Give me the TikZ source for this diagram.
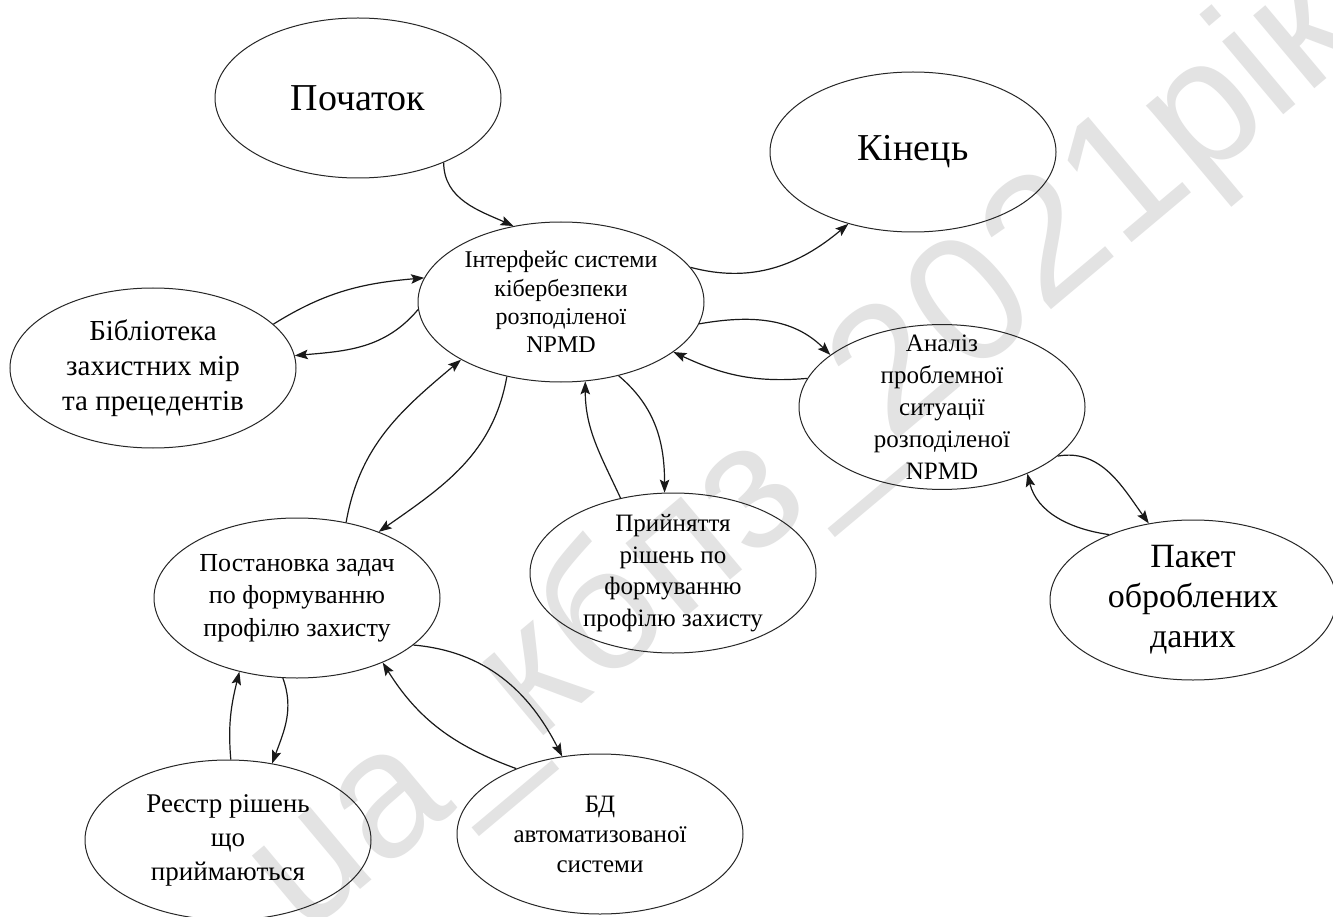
\documentclass[tikz,border=0pt]{standalone}
\usepackage{fontspec}
\setmainfont{Liberation Serif}
\newfontfamily\wmfont{Liberation Sans}
\usetikzlibrary{shapes.geometric,arrows.meta}
\newcommand{\fs}[2]{\fontsize{#1}{#2}\selectfont}
\begin{document}
\begin{tikzpicture}[x=1pt,y=1pt,
  blob/.style={ellipse,draw=black!85,line width=1pt,minimum width=286pt,
    minimum height=160pt,inner sep=-14pt,align=center,text=black},
  arr/.style={-{Stealth[length=13pt,width=9.5pt,inset=2.5pt]},line width=1.2pt,draw=black!90},
  wmark/.style={text=black!11,font=\wmfont\fs{180}{180},rotate=40}]
\useasboundingbox (0,0) rectangle (1333,-917);
\fill[white] (0,0) rectangle (1333,-917);

% faint diagonal stamp in the background
\begin{scope}
  \clip (0,0) rectangle (1333,-917);
  \node[wmark] (stamp) at (805,-455) {ua\_кбпз\_2021рік};
\end{scope}

% states
\node[blob,font=\fs{38}{44}] (start) at (358,-98) {Початок};
\node[blob,font=\fs{38}{44}] (fin) at (913,-152) {Кінець};
\node[blob,font=\fs{24}{28.3}] (iface) at (561,-302)
  {Інтерфейс системи\\кібербезпеки\\розподіленої\\NPMD};
\node[blob,font=\fs{29}{35}] (lib) at (153,-368)
  {Бібліотека\\захистних мір\\та прецедентів};
\node[blob,font=\fs{25}{32}] (anal) at (942,-407)
  {Аналіз\\проблемної\\ситуації\\розподіленої\\NPMD};
\node[blob,font=\fs{25}{31.5}] (decis) at (673,-573)
  {Прийняття\\рішень по\\формуванню\\профілю захисту};
\node[blob,font=\fs{26}{32.5}] (task) at (297,-598)
  {Постановка задач\\по формуванню\\профілю захисту};
\node[blob,font=\fs{34}{40}] (pack) at (1193,-600)
  {Пакет\\оброблених\\даних};
\node[blob,font=\fs{27}{34}] (reg) at (228,-840)
  {Реєстр рішень\\що\\приймаються};
\node[blob,font=\fs{25}{30}] (db) at (600,-834)
  {БД\\автоматизованої\\системи};

% transitions
\draw[arr] (start.-37) to[out=-90,in=156] (iface.122);
\draw[arr] (iface.15) to[out=-15,in=220] (fin.-132);
\draw[arr] (lib.20) to[out=32,in=185] (iface.170);
\draw[arr] (iface.183) to[out=230,in=5] (lib.5);
\draw[arr] (iface.-9) to[out=10,in=135] (anal.155);
\draw[arr] (anal.168) to[out=185,in=-25] (iface.-24);
\draw[arr] (iface.-52) to[out=-40,in=90] (decis.96);
\draw[arr] (decis.125) to[out=115,in=-90] (iface.-73);
\draw[arr] (iface.-126) to[out=-100,in=35] (task.39);
\draw[arr] (task.57) to[out=80,in=220] (iface.-150);
\draw[arr] (anal.-23) to[out=10,in=126] (pack.120);
\draw[arr] (pack.142) to[out=172,in=-76] (anal.-38);
\draw[arr] (task.-22) to[out=-5,in=117] (db.116);
\draw[arr] (db.142) to[out=160,in=-58] (task.-37);
\draw[arr] (task.-100) to[out=-70,in=70] (reg.60);
\draw[arr] (reg.88) to[out=95,in=-104] (task.-128);
\end{tikzpicture}
\end{document}
